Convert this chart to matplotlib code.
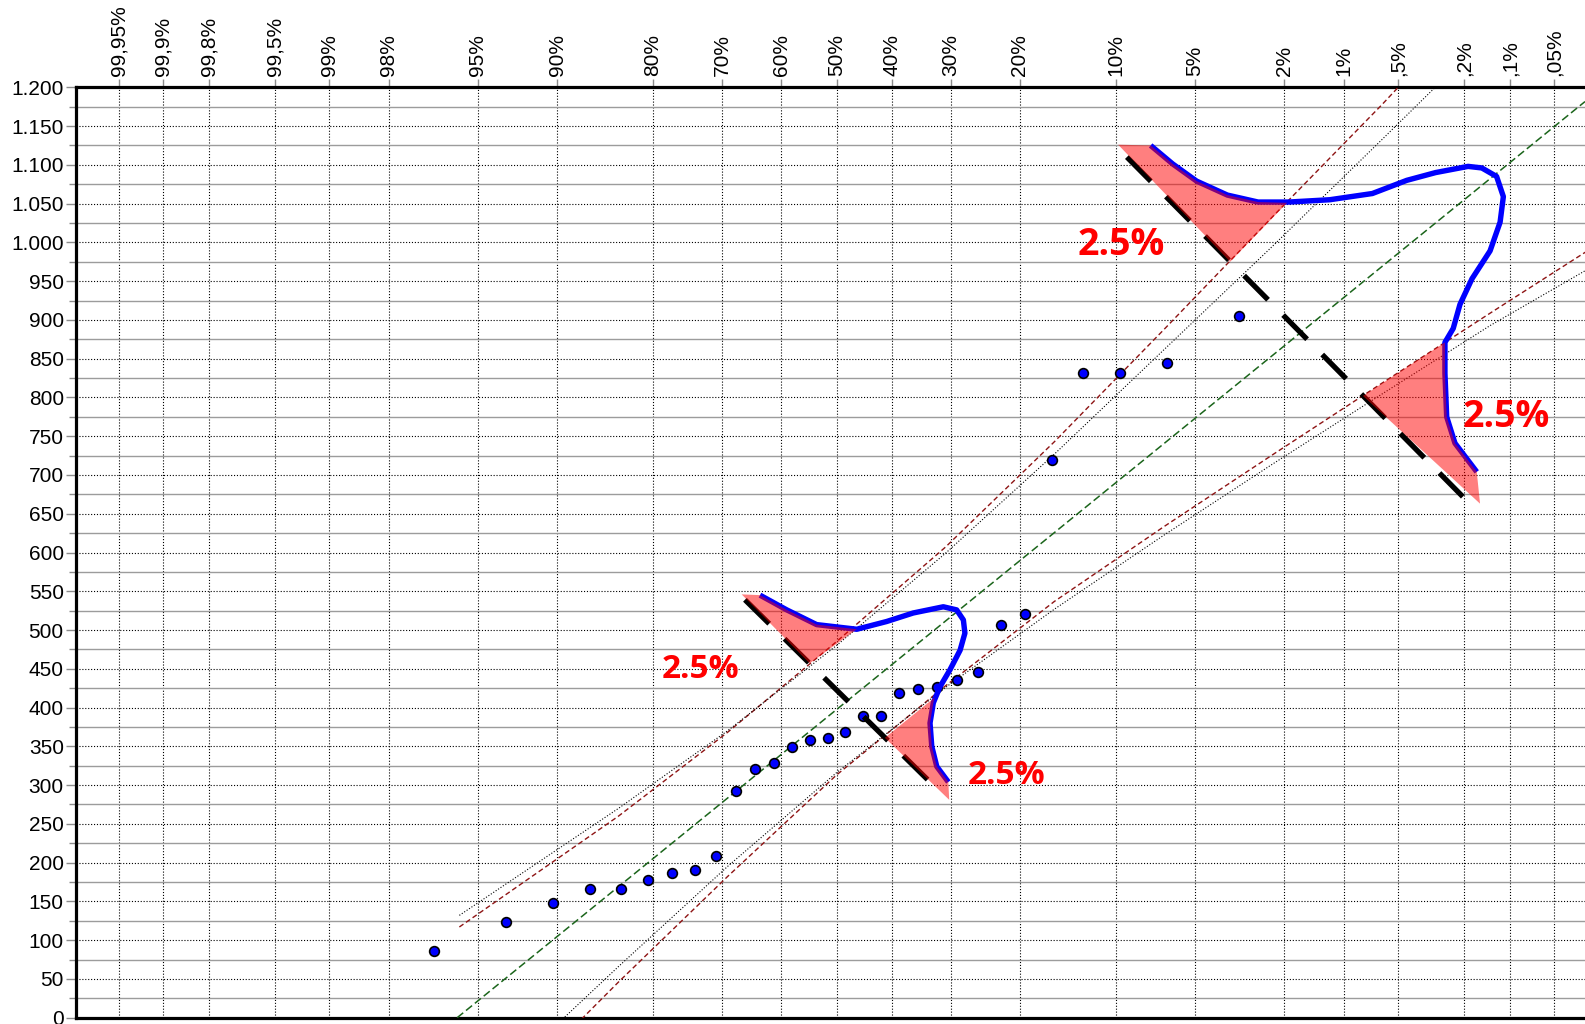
import numpy as np
import matplotlib
matplotlib.use("Agg")
import matplotlib.pyplot as plt
from matplotlib.patches import Polygon
from matplotlib.ticker import FixedLocator, FuncFormatter
from statistics import NormalDist

plt.rcParams["lines.scale_dashes"] = False
plt.rcParams["font.family"] = ["Liberation Sans", "DejaVu Sans"]

# ---------------------------------------------------------------- data
# observed sample, sorted ascending
values = [86, 123, 148, 166, 166, 178, 186, 191, 209, 292, 321, 329, 349, 358, 361,
          368, 389, 389, 419, 424, 427, 436, 446, 507, 521, 719, 832, 832, 845, 905]

# exceedance probabilities on the probability-paper axis
exceed_pct = [99.95, 99.9, 99.8, 99.5, 99, 98, 95, 90, 80, 70, 60, 50, 40, 30,
              20, 10, 5, 2, 1, 0.5, 0.2, 0.1, 0.05]
exceed_labels = ["99,95%", "99,9%", "99,8%", "99,5%", "99%", "98%", "95%", "90%",
                 "80%", "70%", "60%", "50%", "40%", "30%", "20%", "10%", "5%",
                 "2%", "1%", ",5%", ",2%", ",1%", ",05%"]

# confidence limits at standard normal quantiles
band_z = [-1.73, -1.0, -0.5, 0.0, 0.5, 1.0, 1.5, 2.0, 2.5, 3.0, 3.45]
upper_limit_a = [117, 260, 368, 485, 607, 743, 887, 1033, 1177, 1327, 1464]
upper_limit_b = [132, 270, 370, 480, 599, 727, 861, 995, 1132, 1270, 1400]
lower_limit_a = [-160, 46, 182, 313, 428, 537, 633, 726, 818, 909, 990]
lower_limit_b = [-127, 66, 195, 316, 426, 527, 622, 714, 804, 893, 966]

# sketched sampling densities (quantile z, value)
density_hi_z = [1.441, 1.543, 1.652, 1.793, 1.934, 2.075, 2.263, 2.458, 2.616, 2.748,
                2.897, 2.960, 3.028, 3.059, 3.044, 2.998, 2.915, 2.860, 2.829, 2.791,
                2.791, 2.799, 2.837, 2.937]
density_hi_v = [1125, 1101, 1079, 1061, 1052, 1052, 1055, 1063, 1080, 1090,
                1098, 1096, 1085, 1059, 1026, 989, 953, 920, 889, 871,
                831, 775, 741, 704]
density_lo_z = [-0.351, -0.228, -0.091, 0.093, 0.230, 0.352, 0.490, 0.551, 0.582,
                0.589, 0.567, 0.521, 0.475, 0.444, 0.429, 0.437, 0.460, 0.513]
density_lo_v = [545, 526, 507, 501, 511, 522, 530, 526, 513,
                496, 474, 449, 427, 406, 380, 350, 324, 304]

# base lines of the densities
base_hi_z, base_hi_v = [1.332, 2.873], [1110, 672]
base_lo_z, base_lo_v = [-0.420, 0.429], [539, 304]

# 2.5 % tails
tail_hi_upper = [(1.292, 1126), (1.441, 1125), (1.543, 1101), (1.652, 1079),
                 (1.793, 1061), (1.934, 1052), (2.067, 1051), (1.806, 975)]
tail_hi_lower = [(2.415, 802), (2.791, 871), (2.791, 831), (2.799, 775),
                 (2.837, 741), (2.937, 704), (2.952, 663)]
tail_lo_upper = [(-0.435, 546), (-0.351, 545), (-0.228, 526), (-0.091, 507),
                 (0.093, 501), (-0.123, 457)]
tail_lo_lower = [(0.222, 361), (0.450, 413), (0.444, 406), (0.429, 380),
                 (0.437, 350), (0.460, 324), (0.513, 304), (0.517, 281)]

tail_text = "2.5%"
tail_text_pos = [(1.305, 984), (3.073, 762), (-0.622, 438), (0.780, 302)]
tail_text_size = [27, 27, 24, 24]

# ---------------------------------------------------------------- figure
nd = NormalDist()
W, H = 1585, 1024
fig = plt.figure(figsize=(W / 100, H / 100), dpi=100)
left_px, top_px, bottom_px = 76, 87.3, 1017.7
ax = fig.add_axes([left_px / W, (H - bottom_px) / H, 1 - left_px / W,
                   (bottom_px - top_px) / H])

x_left = (left_px - 836.5) / 218.0
x_right = (W - 836.5) / 218.0
ax.set_xlim(x_left, x_right)
ax.set_ylim(0, 1200)

# probability axis on top
tick_z = [nd.inv_cdf(1 - p / 100.0) for p in exceed_pct]
ax.xaxis.set_ticks_position("top")
ax.xaxis.set_major_locator(FixedLocator(tick_z))
ax.set_xticklabels(exceed_labels, rotation=90, fontsize=15)
ax.tick_params(axis="x", which="major", direction="out", length=5.8, width=1.0,
               color="#8c8c8c", pad=2)

ax.yaxis.set_major_locator(FixedLocator(np.arange(0, 1201, 50)))
ax.yaxis.set_minor_locator(FixedLocator(np.arange(25, 1200, 50)))
ax.yaxis.set_major_formatter(FuncFormatter(lambda v, _: f"{int(round(v)):,}".replace(",", ".")))
ax.tick_params(axis="y", which="major", direction="out", length=7.2, width=1.0,
               color="#8c8c8c", pad=1.6, labelsize=15)
ax.tick_params(axis="y", which="minor", direction="out", length=5.0, width=1.0,
               color="#8c8c8c")

ax.set_axisbelow(True)
dotted = (0, (0.8, 1.3))
ax.grid(axis="x", which="major", color="black", lw=0.8, linestyle=dotted)
ax.grid(axis="y", which="major", color="black", lw=0.8, linestyle=dotted)
ax.grid(axis="y", which="minor", color="#9c9c9c", lw=1.0, linestyle="-")

for side in ("left", "top", "bottom"):
    ax.spines[side].set_linewidth(2.3)
    ax.spines[side].set_color("black")
ax.spines["right"].set_visible(False)

# fitted normal distribution from the sample
vals = np.asarray(values, dtype=float)
n = len(vals)
mean, sd = vals.mean(), vals.std(ddof=1)
fit_z = np.array([-mean / sd, x_right])
ax.plot(fit_z, mean + sd * fit_z, color="#1b651b", lw=1.1,
        linestyle=(0, (5.6, 2.6)), zorder=3)

# confidence limits
ax.plot(band_z, upper_limit_a, color="#8e1414", lw=1.0, linestyle=(0, (3.6, 2.2)), zorder=3)
ax.plot(band_z, lower_limit_a, color="#8e1414", lw=1.0, linestyle=(0, (3.6, 2.2)), zorder=3)
ax.plot(band_z, upper_limit_b, color="black", lw=0.8, linestyle=(0, (0.8, 1.3)), zorder=3)
ax.plot(band_z, lower_limit_b, color="black", lw=0.8, linestyle=(0, (0.8, 1.3)), zorder=3)

# sample points at Weibull plotting positions
pp_z = [nd.inv_cdf(i / (n + 1)) for i in range(1, n + 1)]
ax.plot(pp_z, values, linestyle="none", marker="o", ms=7.0, mfc="#0000ff",
        mec="black", mew=1.2, zorder=4)

# sampling densities with their base lines and tails
for bz, bv in ((base_hi_z, base_hi_v), (base_lo_z, base_lo_v)):
    ax.plot(bz, bv, color="black", lw=3.8, linestyle=(0, (24.5, 15.5)),
            solid_capstyle="butt", dash_capstyle="butt", zorder=5)
for dz, dv in ((density_hi_z, density_hi_v), (density_lo_z, density_lo_v)):
    ax.plot(dz, dv, color="#0000ff", lw=3.9, solid_joinstyle="round",
            solid_capstyle="butt", zorder=5)
for tail in (tail_hi_upper, tail_hi_lower, tail_lo_upper, tail_lo_lower):
    ax.add_patch(Polygon(tail, closed=True, facecolor="red", alpha=0.5,
                         edgecolor="none", zorder=6))
for (tz, tv), fs in zip(tail_text_pos, tail_text_size):
    ax.text(tz, tv, tail_text, color="#ff0000", fontsize=fs, fontweight="bold",
            family=["Open Sans", "DejaVu Sans"], ha="center", va="baseline", zorder=7)

fig.savefig("out.png", dpi=100)
